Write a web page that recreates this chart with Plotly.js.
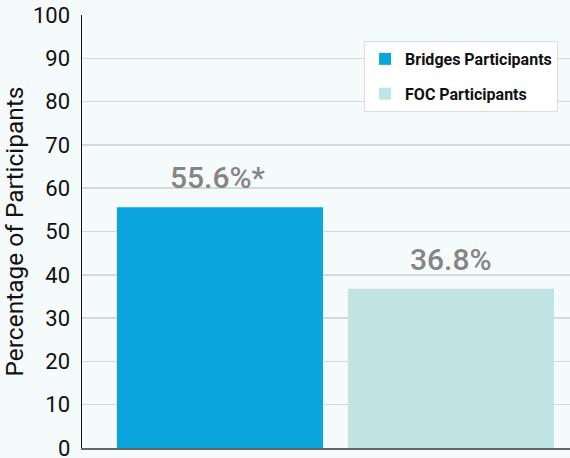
<!DOCTYPE html>
<html><head><meta charset="utf-8">
<script src="https://cdn.plot.ly/plotly-3.0.1.min.js"></script>
<style>html,body{margin:0;padding:0;background:#f5fafa}</style>
</head><body>
<div id="chart" style="width:570px;height:458px"></div>
<script>
const categories = ["Bridges Participants", "FOC Participants"];
const values = [55.6, 36.8];
const labels = ["55.6%*", "36.8%"];
const colors = ["#0aa5dc", "#c0e3e3"];
const yTicks = [0,10,20,30,40,50,60,70,80,90,100];

const FONT = "Roboto, Arial, sans-serif";

const traces = categories.map((c, i) => ({
  type: "bar",
  name: c,
  legendgroup: "g" + i,
  x: [i],
  y: [values[i]],
  width: 0.892,
  marker: {color: colors[i]},
  hoverinfo: "skip"
}));

const annotations = categories.map((c, i) => ({
  x: i, y: values[i], xref: "x", yref: "y",
  text: labels[i], showarrow: false, yanchor: "bottom", yshift: 10,
  xshift: i === 0 ? -2 : 0,
  font: {family: FONT, size: 30, color: "#858585", weight: 500}
}));
// bottom "0" tick label, partly cut by the page edge as in the original
annotations.push({
  x: 0, xref: "paper", y: 0, yref: "y", text: String(yTicks[0]),
  showarrow: false, xanchor: "right", yanchor: "middle", xshift: -10,
  font: {family: FONT, size: 22, color: "#111111"}
});

const layout = {
  width: 570, height: 458,
  margin: {l: 82, r: 0, t: 15, b: 10},
  paper_bgcolor: "#f5fafa",
  plot_bgcolor: "#f5fafa",
  barmode: "overlay",
  showlegend: true,
  legend: {
    x: 0.578, y: 0.94, xanchor: "left", yanchor: "top",
    bgcolor: "#ffffff", bordercolor: "#dddddd", borderwidth: 1,
    font: {family: FONT, size: 16, color: "#111111", weight: "bold"},
    itemwidth: 30, tracegroupgap: 11
  },
  xaxis: {
    range: [-0.597, 1.515], showticklabels: false, showgrid: false, zeroline: false,
    showline: true, linecolor: "#666666", linewidth: 2, ticks: "", fixedrange: true
  },
  yaxis: {
    range: [0, 100], tickvals: yTicks.slice(1), ticktext: yTicks.slice(1).map(String),
    showgrid: true, gridcolor: "#d6d9da", gridwidth: 1.5, zeroline: false,
    showline: true, linecolor: "#111111", linewidth: 1.5, ticks: "",
    ticklabelstandoff: 6,
    tickfont: {family: FONT, size: 22, color: "#111111"},
    title: {text: "Percentage of Participants", standoff: 9,
      font: {family: FONT, size: 24.5, color: "#111111"}},
    automargin: false
  },
  annotations: annotations
};

Plotly.newPlot("chart", traces, layout, {displayModeBar: false, staticPlot: true});
</script>
</body></html>
